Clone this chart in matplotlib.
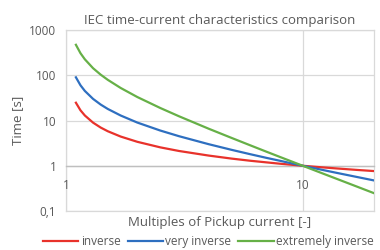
import matplotlib
matplotlib.use("Agg")
import matplotlib.pyplot as plt

plt.rcParams['font.family'] = ['Open Sans', 'DejaVu Sans']

# multiples of pickup current
multiples = [1.1, 1.15, 1.2, 1.3, 1.4, 1.5, 1.7, 2, 2.5, 3, 4, 5, 6, 7, 8, 10, 12, 14, 17, 20]

# trip time [s]
t_inverse = [24.7, 16.8, 12.9, 8.96, 6.98, 5.79, 4.42, 3.38, 2.55, 2.12, 1.68, 1.44,
             1.29, 1.19, 1.11, 1.0, 0.925, 0.87, 0.808, 0.763]
t_very = [90, 60, 45, 30, 22.5, 18, 12.9, 9, 6, 4.5, 3, 2.25,
          1.8, 1.5, 1.29, 1.0, 0.818, 0.692, 0.563, 0.474]
t_extreme = [471, 307, 225, 143, 103, 79.2, 52.4, 33, 18.9, 12.4, 6.6, 4.13,
             2.83, 2.06, 1.57, 1.0, 0.692, 0.508, 0.344, 0.248]

series_names = ['inverse', 'very inverse', 'extremely inverse']
colors = ['#e8322b', '#2e6fc0', '#66b047']

ytick_vals = [0.1, 1, 10, 100, 1000]
ytick_labels = ['0,1', '1', '10', '100', '1000']
xtick_vals = [1, 10]
xtick_labels = ['1', '10']

grey = '#595959'
grid_c = '#d9d9d9'

fig = plt.figure(figsize=(3.8, 2.5), dpi=100)
ax = fig.add_axes([0.174, 0.156, 0.81, 0.724])

for y, name, c in zip([t_inverse, t_very, t_extreme], series_names, colors):
    ax.plot(multiples, y, color=c, lw=1.6, label=name, zorder=3)

ax.set_xscale('log')
ax.set_yscale('log')
ax.set_xlim(1, 20)
ax.set_ylim(0.1, 1000)

ax.set_yticks(ytick_vals)
ax.set_yticklabels(ytick_labels)
ax.yaxis.set_minor_locator(matplotlib.ticker.NullLocator())
ax.xaxis.set_minor_locator(matplotlib.ticker.NullLocator())
ax.set_xticks(xtick_vals)
ax.set_xticklabels([])
ax.tick_params(length=0, labelsize=8.5, colors=grey, pad=7)

ax.grid(True, color=grid_c, lw=0.9, zorder=0)
for s in ['top', 'right', 'left']:
    ax.spines[s].set_color(grid_c)
    ax.spines[s].set_linewidth(0.9)
ax.spines['bottom'].set_position(('data', 1))
ax.spines['bottom'].set_color('#bfbfbf')
ax.spines['bottom'].set_linewidth(1.0)
ax.axhline(0.1, color=grid_c, lw=0.9, clip_on=False, zorder=0)

# x tick labels sit under the crossing axis at t = 1
for xv, lab in zip(xtick_vals, xtick_labels):
    ax.annotate(lab, (xv, 1), xytext=(0, -14), textcoords='offset points',
                ha='center', va='center', fontsize=8.5, color=grey)

ax.set_title('IEC time-current characteristics comparison', fontsize=9.5,
             color=grey, pad=4)
ax.set_xlabel('Multiples of Pickup current [-]', fontsize=9.5, color=grey)
ax.xaxis.set_label_coords(0.5, -0.03)
ax.set_ylabel('Time [s]', fontsize=9.5, color=grey, labelpad=4)

fig.legend(loc='lower left', bbox_to_anchor=(0.085, -0.035), ncol=3, frameon=False,
           fontsize=8.5, labelcolor=grey, handlelength=3.0, handletextpad=0.2,
           columnspacing=0.6)

fig.savefig('out.png', dpi=100)
